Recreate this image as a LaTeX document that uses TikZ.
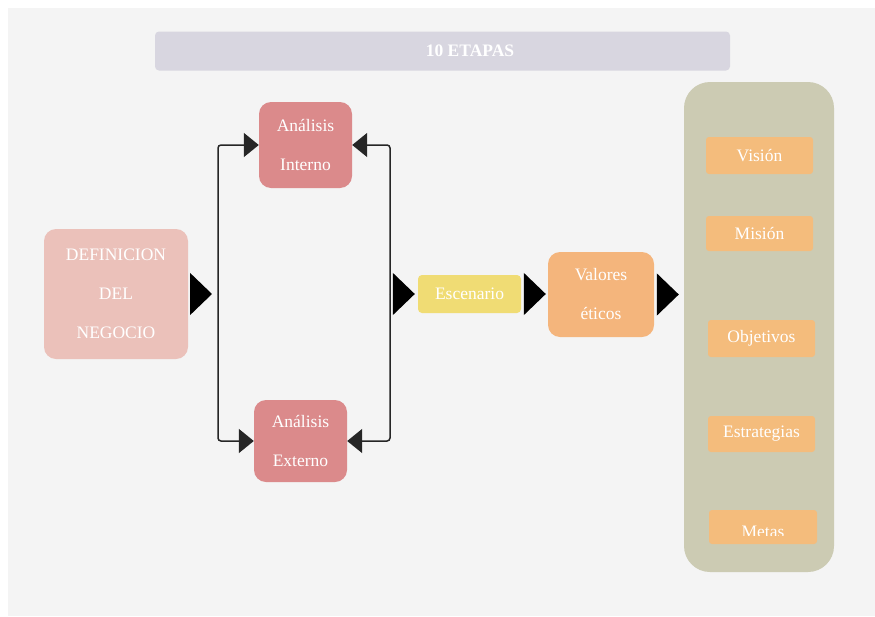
\documentclass[tikz,border=0pt]{standalone}
\usepackage{fontspec}
\setmainfont{Liberation Serif}
\usetikzlibrary{arrows.meta}
\definecolor{bggray}{HTML}{F4F4F4}
\definecolor{titlebar}{HTML}{D8D6E0}
\definecolor{defpink}{HTML}{EBC1BA}
\definecolor{anared}{HTML}{DB8A8B}
\definecolor{escyel}{HTML}{F0DC74}
\definecolor{valor}{HTML}{F4B57C}
\definecolor{panel}{HTML}{CCCBB3}
\definecolor{item}{HTML}{F4BC7C}
\tikzset{
  box/.style={rounded corners=12pt, inner sep=0pt, align=center, text=white,
    font=\fontsize{17.5}{39}\selectfont},
  itembox/.style={rounded corners=3pt, fill=item, inner sep=0pt, text=white,
    font=\fontsize{17.5}{20}\selectfont},
  conn/.style={draw=black!85, line width=1.5pt, rounded corners=3pt,
    -{Triangle[length=15pt,width=24pt]}},
  bigtip/.style={line width=1.5pt, -{Triangle[length=22pt,width=42pt]}},
}
\begin{document}
\begin{tikzpicture}[x=1pt,y=-1pt]
\useasboundingbox (0,0) rectangle (875,616);
\fill[white] (0,0) rectangle (875,616);
\fill[bggray] (8,8) rectangle (875,616);
% title
\node[rounded corners=4pt, fill=titlebar, minimum width=575pt, minimum height=39pt, inner sep=0pt] (title) at (442.5,51) {};
\node[text=white, font=\bfseries\fontsize{17.5}{20}\selectfont, inner sep=0pt] (titletext) at (470,51) {10 ETAPAS};
% left box
\node[box, fill=defpink, minimum width=144pt, minimum height=130pt] (def) at (116,294)
  {DEFINICION\\DEL\\NEGOCIO};
\node[box, fill=anared, minimum width=93pt, minimum height=86pt] (ai) at (305.5,145)
  {Análisis\\Interno};
\node[box, fill=anared, minimum width=93pt, minimum height=82pt] (ae) at (300.5,441)
  {Análisis\\Externo};
\node[box, rounded corners=4pt, fill=escyel, minimum width=103pt, minimum height=38pt] (esc) at (469.5,294)
  {Escenario};
\node[box, fill=valor, minimum width=106pt, minimum height=85pt] (val) at (601,294.5)
  {Valores\\éticos};
\node[rounded corners=26pt, fill=panel, minimum width=150pt, minimum height=490pt, inner sep=0pt] (pan) at (759,327) {};
% items
\node[itembox, minimum width=107pt, minimum height=37pt] (vis) at (759.5,155.5) {Visión};
\node[itembox, minimum width=107pt, minimum height=35pt] (mis) at (759.5,233.5) {Misión};
\node[itembox, minimum width=107pt, minimum height=37pt] (obj) at (761.5,338.5) {Objetivos};
\node[itembox, minimum width=107pt, minimum height=36pt] (est) at (761.5,434) {Estrategias};
\node[itembox, minimum width=108pt, minimum height=34pt] (met) at (763,527) {};
\begin{scope}
  \clip (met.north west) rectangle (met.east |- 0,535);
  \node[text=white, font=\fontsize{17.5}{20}\selectfont, anchor=base, inner sep=0pt] (mett) at (763,537) {Metas};
\end{scope}
% junction points
\coordinate (jl) at (218,294);
\coordinate (jr) at (390,294);
% bracket connectors
\draw[conn] (jl) |- (ai.west);
\draw[conn] (jl) |- (ae.west);
\draw[conn] (jr) |- (ai.east);
\draw[conn] (jr) |- (ae.east);
% big arrowheads
\draw[bigtip, shorten <=2pt, shorten >=6pt] (def.east) -- (jl);
\draw[bigtip, shorten <=3pt, shorten >=3pt] (jr) -- (esc.west);
\draw[bigtip, shorten <=3pt, shorten >=2pt] (esc.east) -- (esc.east -| val.west);
\draw[bigtip, shorten <=3pt, shorten >=5pt] (val.east) -- (val.east -| pan.west);
\end{tikzpicture}
\end{document}
